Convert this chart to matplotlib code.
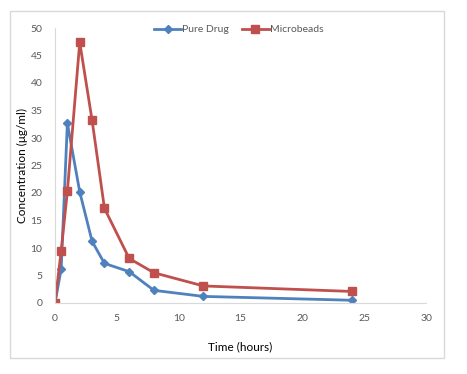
import matplotlib.pyplot as plt
from matplotlib.patches import Rectangle

time_h = [0, 0.5, 1, 2, 3, 4, 6, 8, 12, 24]
pure_drug = [0, 6.2, 32.7, 20.2, 11.2, 7.2, 5.7, 2.3, 1.2, 0.5]
microbeads = [0, 9.5, 20.3, 47.4, 33.2, 17.2, 8.1, 5.5, 3.1, 2.1]

blue = "#4F81BD"
red = "#C0504D"
grey = "#595959"

plt.rcParams["font.family"] = ["Lato", "DejaVu Sans"]

fig = plt.figure(figsize=(4.67, 3.74), dpi=100)
fig.patches.append(Rectangle((10 / 467, 1 - 358 / 374), 434 / 467, 347 / 374,
                             transform=fig.transFigure, fill=False,
                             edgecolor="#D9D9D9", linewidth=1))
ax = fig.add_axes([55 / 467, 1 - 303 / 374, 371 / 467, 275 / 374])

ax.plot(time_h, pure_drug, color=blue, marker="D", markersize=4, linewidth=2, label="Pure Drug")
ax.plot(time_h, microbeads, color=red, marker="s", markersize=6, linewidth=2, label="Microbeads")

ax.set_xlim(0, 30)
ax.set_ylim(0, 50)
ax.set_xticks(range(0, 31, 5))
ax.set_yticks(range(0, 51, 5))
ax.tick_params(length=0, labelsize=7.5, labelcolor=grey)
ax.tick_params(axis="x", pad=8)
ax.tick_params(axis="y", pad=9)
for side in ["top", "right"]:
    ax.spines[side].set_visible(False)
for side in ["left", "bottom"]:
    ax.spines[side].set_color("#D9D9D9")

ax.set_xlabel("Time (hours)", fontsize=8.5, labelpad=13)
ax.set_ylabel("Concentration (μg/ml)", fontsize=8.5, labelpad=2)

ax.legend(loc="upper center", bbox_to_anchor=(0.495, 1.045), ncol=2, frameon=False,
          fontsize=7.5, handlelength=2.6, columnspacing=1.2, handletextpad=0.1,
          labelcolor=grey)

fig.savefig("out.png", dpi=100)
